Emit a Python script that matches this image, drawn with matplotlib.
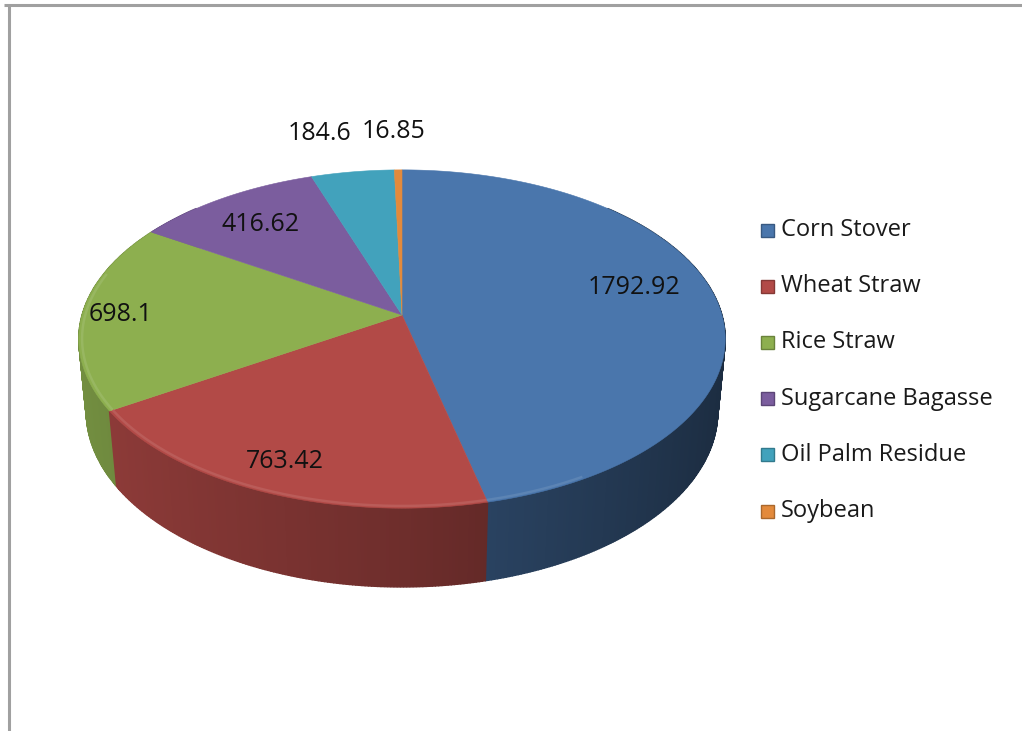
import numpy as np
import matplotlib
matplotlib.use("Agg")
import matplotlib.pyplot as plt
from matplotlib.patches import Polygon, Rectangle
from matplotlib.colors import to_rgb

# ---- data ----
categories = ["Corn Stover", "Wheat Straw", "Rice Straw",
              "Sugarcane Bagasse", "Oil Palm Residue", "Soybean"]
values = [1792.92, 763.42, 698.1, 416.62, 184.6, 16.85]
value_labels = ["1792.92", "763.42", "698.1", "416.62", "184.6", "16.85"]

# ---- styling ----
top_colors = ["#4A76AC", "#B24A47", "#8DAF4F", "#7B5D9E", "#42A2BC", "#E38A3B"]
label_radius = [0.74, 0.86, 0.88, 0.75, 1.3, 1.3]
label_nudge = [(0, -13), (0, -2), (0, 0), (-5, 0), (-20, -2), (-4, -2)]  # pixels

FONT = ["Open Sans", "DejaVu Sans"]

W, H = 1022, 731
fig = plt.figure(figsize=(W / 100, H / 100), dpi=100)
ax = fig.add_axes([0, 0, 1, 1])
ax.set_xlim(0, W)
ax.set_ylim(H, 0)
ax.axis("off")

# chart frame
ax.plot([4, W], [5, 5], color="#a0a0a0", lw=2.2, solid_capstyle="butt")
ax.plot([9, 9], [5, H], color="#a0a0a0", lw=2.2, solid_capstyle="butt")

# ---- perspective projection of a tilted disc ----
cx, cy = 402.0, 315.0          # screen position of the disc centre
alpha = np.radians(31.2)       # tilt
sa, ca = np.sin(alpha), np.cos(alpha)
D = 6.02                       # camera distance (disc radius = 1)
F = 1926.0                     # focal scale in pixels
h = 0.27                       # slab thickness


def proj(theta, r=1.0, yw=0.0):
    """theta in degrees, clockwise from 12 o'clock."""
    t = np.radians(theta)
    X = r * np.sin(t)
    Z = r * np.cos(t)
    w = D + Z * ca - yw * sa
    sx = F * X / w
    sy = F * (Z * sa + yw * ca) / w
    return cx + sx, cy - sy


def shade(color, f):
    r, g, b = to_rgb(color)
    return (min(r * f, 1), min(g * f, 1), min(b * f, 1))


def lighten(color, f):
    r, g, b = to_rgb(color)
    return (r + (1 - r) * f, g + (1 - g) * f, b + (1 - b) * f)


def wall_factor(theta):
    s = np.sin(np.radians(theta))
    return 0.62 - (0.25 if s > 0 else 0.2) * s


total = float(np.sum(values))
angles = np.cumsum([0.0] + [v / total * 360.0 for v in values])

# side walls: small strips, far ones first
strips = []
for i in range(len(values)):
    a0, a1 = angles[i], angles[i + 1]
    lo, hi = max(a0, 45.0), min(a1, 315.0)
    if hi <= lo:
        continue
    n = max(2, int((hi - lo) / 0.5))
    ts = np.linspace(lo, hi, n + 1)
    for t0, t1 in zip(ts[:-1], ts[1:]):
        tm = 0.5 * (t0 + t1)
        pts = [proj(t0), proj(t1), proj(t1, yw=-h), proj(t0, yw=-h)]
        strips.append((np.cos(np.radians(tm)), pts,
                       shade(top_colors[i], wall_factor(tm))))

strips.sort(key=lambda s: -s[0])
for _, pts, col in strips:
    ax.add_patch(Polygon(pts, closed=True, facecolor=col, edgecolor=col,
                         lw=1.0, antialiased=True))

# top faces
for i in range(len(values)):
    a0, a1 = angles[i], angles[i + 1]
    n = max(3, int((a1 - a0) / 0.5))
    ts = np.linspace(a0, a1, n + 1)
    pts = [(cx, cy)] + [proj(t) for t in ts]
    ax.add_patch(Polygon(pts, closed=True, facecolor=top_colors[i],
                         edgecolor=top_colors[i], lw=0.4))

# soft bevel highlight along the front-left rim
for i in range(len(values)):
    lo, hi = max(angles[i], 150.0), min(angles[i + 1], 285.0)
    if hi <= lo:
        continue
    ts = np.linspace(lo, hi, 200)
    p = np.array([proj(t, r=0.99) for t in ts])
    ax.plot(p[:, 0], p[:, 1], color=lighten(top_colors[i], 0.1), lw=1.8,
            solid_capstyle="butt")

# value labels
for i in range(len(values)):
    mid = 0.5 * (angles[i] + angles[i + 1])
    x, y = proj(mid, r=label_radius[i])
    dx, dy = label_nudge[i]
    ax.text(x + dx, y + dy, value_labels[i], ha="center", va="center",
            fontsize=18, color="#111111", family=FONT)

# legend
leg_x, leg_y0, leg_dy = 767, 230, 56.2
for i, name in enumerate(categories):
    y = leg_y0 + i * leg_dy
    c = top_colors[i]
    ax.add_patch(Rectangle((leg_x - 6.5, y - 6.5), 13, 13,
                           facecolor=c, edgecolor=shade(c, 0.75), lw=1.0))
    ax.text(leg_x + 14, y, name, ha="left", va="center",
            fontsize=17, color="#1a1a1a", family=FONT)

fig.savefig("out.png", dpi=100)
